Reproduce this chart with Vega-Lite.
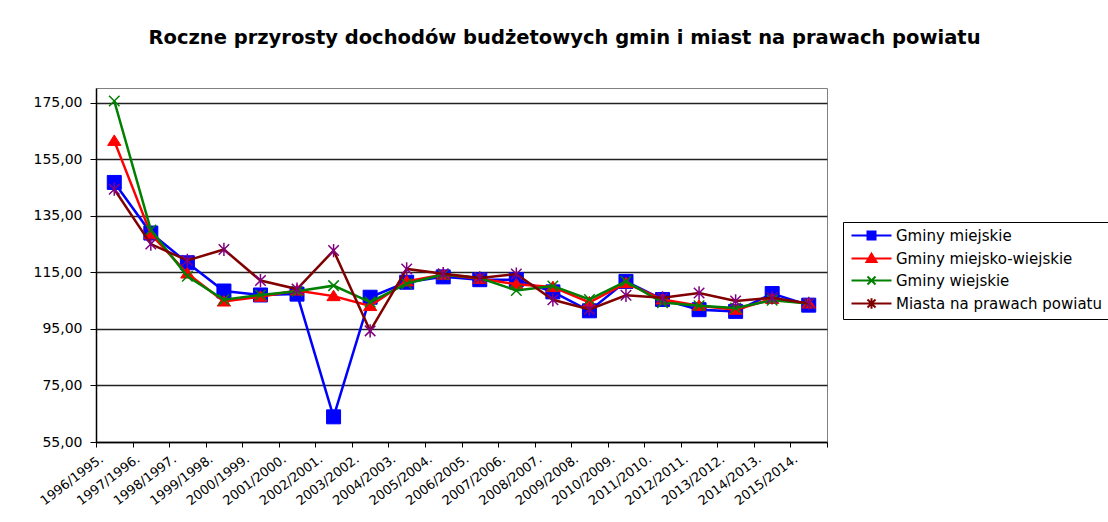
{
  "$schema": "https://vega.github.io/schema/vega-lite/v6.json",
  "autosize": "none",
  "width": 731,
  "height": 354,
  "padding": {"left": 96, "top": 88, "right": 281, "bottom": 80},
  "background": "white",
  "title": {
    "text": "Roczne przyrosty dochodów budżetowych gmin i miast na prawach powiatu",
    "font": "DejaVu Sans",
    "fontSize": 19.5,
    "fontWeight": "bold",
    "color": "#000000",
    "anchor": "middle",
    "frame": "group",
    "dx": 103,
    "baseline": "alphabetic",
    "offset": 25
  },
  "data": {
    "values": [
      {"okres": "1996/1995.", "Gminy miejskie": 146.8, "Gminy miejsko-wiejskie": 161.5, "Gminy wiejskie": 175.6, "Miasta na prawach powiatu": 144.4},
      {"okres": "1997/1996.", "Gminy miejskie": 128.9, "Gminy miejsko-wiejskie": 128.5, "Gminy wiejskie": 130.0, "Miasta na prawach powiatu": 125.0},
      {"okres": "1998/1997.", "Gminy miejskie": 118.4, "Gminy miejsko-wiejskie": 114.6, "Gminy wiejskie": 113.6, "Miasta na prawach powiatu": 119.2},
      {"okres": "1999/1998.", "Gminy miejskie": 108.4, "Gminy miejsko-wiejskie": 104.7, "Gminy wiejskie": 105.3, "Miasta na prawach powiatu": 123.1},
      {"okres": "2000/1999.", "Gminy miejskie": 107.0, "Gminy miejsko-wiejskie": 106.4, "Gminy wiejskie": 107.0, "Miasta na prawach powiatu": 112.1},
      {"okres": "2001/2000.", "Gminy miejskie": 107.3, "Gminy miejsko-wiejskie": 108.6, "Gminy wiejskie": 108.3, "Miasta na prawach powiatu": 109.1},
      {"okres": "2002/2001.", "Gminy miejskie": 63.9, "Gminy miejsko-wiejskie": 106.6, "Gminy wiejskie": 110.3, "Miasta na prawach powiatu": 122.7},
      {"okres": "2003/2002.", "Gminy miejskie": 106.2, "Gminy miejsko-wiejskie": 103.1, "Gminy wiejskie": 104.5, "Miasta na prawach powiatu": 94.3},
      {"okres": "2004/2003.", "Gminy miejskie": 111.5, "Gminy miejsko-wiejskie": 111.8, "Gminy wiejskie": 111.0, "Miasta na prawach powiatu": 116.2},
      {"okres": "2005/2004.", "Gminy miejskie": 113.4, "Gminy miejsko-wiejskie": 114.2, "Gminy wiejskie": 114.2, "Miasta na prawach powiatu": 114.5},
      {"okres": "2006/2005.", "Gminy miejskie": 112.4, "Gminy miejsko-wiejskie": 112.7, "Gminy wiejskie": 113.0, "Miasta na prawach powiatu": 113.0},
      {"okres": "2007/2006.", "Gminy miejskie": 112.4, "Gminy miejsko-wiejskie": 110.8, "Gminy wiejskie": 108.6, "Miasta na prawach powiatu": 114.4},
      {"okres": "2008/2007.", "Gminy miejskie": 108.1, "Gminy miejsko-wiejskie": 109.8, "Gminy wiejskie": 110.2, "Miasta na prawach powiatu": 105.3},
      {"okres": "2009/2008.", "Gminy miejskie": 101.4, "Gminy miejsko-wiejskie": 104.4, "Gminy wiejskie": 105.4, "Miasta na prawach powiatu": 101.9},
      {"okres": "2010/2009.", "Gminy miejskie": 111.8, "Gminy miejsko-wiejskie": 111.2, "Gminy wiejskie": 111.8, "Miasta na prawach powiatu": 106.9},
      {"okres": "2011/2010.", "Gminy miejskie": 105.4, "Gminy miejsko-wiejskie": 105.4, "Gminy wiejskie": 104.3, "Miasta na prawach powiatu": 106.0},
      {"okres": "2012/2011.", "Gminy miejskie": 101.8, "Gminy miejsko-wiejskie": 103.2, "Gminy wiejskie": 103.2, "Miasta na prawach powiatu": 107.7},
      {"okres": "2013/2012.", "Gminy miejskie": 101.2, "Gminy miejsko-wiejskie": 101.8, "Gminy wiejskie": 102.4, "Miasta na prawach powiatu": 104.9},
      {"okres": "2014/2013.", "Gminy miejskie": 107.5, "Gminy miejsko-wiejskie": 105.6, "Gminy wiejskie": 105.1, "Miasta na prawach powiatu": 106.0},
      {"okres": "2015/2014.", "Gminy miejskie": 103.4, "Gminy miejsko-wiejskie": 104.0, "Gminy wiejskie": 104.0, "Miasta na prawach powiatu": 104.0}
    ]
  },
  "transform": [
    {"fold": ["Gminy miejskie", "Gminy miejsko-wiejskie", "Gminy wiejskie", "Miasta na prawach powiatu"], "as": ["seria", "wartosc"]}
  ],
  "encoding": {
    "x": {
      "field": "okres",
      "type": "ordinal",
      "sort": null,
      "scale": {"type": "band", "paddingInner": 0, "paddingOuter": 0},
      "axis": {
        "title": null,
        "tickBand": "extent",
        "grid": false,
        "domainColor": "#000000",
        "domainWidth": 1.5,
        "tickColor": "#000000",
        "tickSize": 5,
        "labelAngle": -37,
        "labelAlign": "right",
        "labelBaseline": "middle",
        "labelOffset": -13,
        "labelPadding": 10,
        "labelFont": "DejaVu Sans",
        "labelFontSize": 13,
        "labelColor": "#000000"
      }
    },
    "y": {
      "field": "wartosc",
      "type": "quantitative",
      "scale": {"domain": [55, 180.2], "nice": false, "zero": false},
      "axis": {
        "title": null,
        "values": [55, 75, 95, 115, 135, 155, 175],
        "labelExpr": "replace(format(datum.value, '.2f'), '.', ',')",
        "grid": true,
        "gridColor": "#222222",
        "gridWidth": 1.3,
        "domainColor": "#000000",
        "domainWidth": 1.5,
        "tickColor": "#000000",
        "tickSize": 6,
        "labelPadding": 8,
        "labelFont": "DejaVu Sans",
        "labelFontSize": 14,
        "labelColor": "#000000"
      }
    }
  },
  "layer": [
    {
      "transform": [{"filter": "datum.seria == 'Gminy miejskie'"}],
      "mark": {"type": "line", "color": "#0000FF", "strokeWidth": 2.5}
    },
    {
      "transform": [{"filter": "datum.seria == 'Gminy miejskie'"}],
      "mark": {"type": "point", "shape": "M-1,-1H1V1H-1Z", "size": 196, "filled": true, "fill": "#0000FF", "stroke": "#0000FF", "strokeWidth": 1, "opacity": 1}
    },
    {
      "transform": [{"filter": "datum.seria == 'Gminy miejsko-wiejskie'"}],
      "mark": {"type": "line", "color": "#FF0000", "strokeWidth": 2.5}
    },
    {
      "transform": [{"filter": "datum.seria == 'Gminy miejsko-wiejskie'"}],
      "mark": {"type": "point", "shape": "M0,-0.85L0.95,0.65H-0.95Z", "size": 196, "filled": true, "fill": "#FF0000", "stroke": "#FF0000", "strokeWidth": 1, "opacity": 1}
    },
    {
      "transform": [{"filter": "datum.seria == 'Gminy wiejskie'"}],
      "mark": {"type": "line", "color": "#008000", "strokeWidth": 2.5}
    },
    {
      "transform": [{"filter": "datum.seria == 'Gminy wiejskie'"}],
      "mark": {"type": "point", "shape": "M-0.75,-0.75L0.75,0.75M-0.75,0.75L0.75,-0.75", "size": 196, "filled": false, "stroke": "#008000", "strokeWidth": 1.5, "opacity": 1}
    },
    {
      "transform": [{"filter": "datum.seria == 'Miasta na prawach powiatu'"}],
      "mark": {"type": "line", "color": "#800000", "strokeWidth": 2.5}
    },
    {
      "transform": [{"filter": "datum.seria == 'Miasta na prawach powiatu'"}],
      "mark": {"type": "point", "shape": "M-0.75,-0.75L0.75,0.75M-0.75,0.75L0.75,-0.75M0,-0.95V0.95", "size": 196, "filled": false, "stroke": "#800080", "strokeWidth": 1.5, "opacity": 1}
    },
    {
      "mark": {"type": "point", "filled": true, "size": 64, "strokeWidth": 2, "opacity": 0},
      "encoding": {
        "color": {
          "field": "seria",
          "type": "nominal",
          "scale": {
            "domain": ["Gminy miejskie", "Gminy miejsko-wiejskie", "Gminy wiejskie", "Miasta na prawach powiatu"],
            "range": ["#0000FF", "#FF0000", "#008000", "#800080"]
          },
          "legend": {"title": null}
        },
        "stroke": {
          "field": "seria",
          "type": "nominal",
          "scale": {
            "domain": ["Gminy miejskie", "Gminy miejsko-wiejskie", "Gminy wiejskie", "Miasta na prawach powiatu"],
            "range": ["#0000FF", "#FF0000", "#008000", "#800000"]
          },
          "legend": {"title": null}
        },
        "shape": {
          "field": "seria",
          "type": "nominal",
          "scale": {
            "domain": ["Gminy miejskie", "Gminy miejsko-wiejskie", "Gminy wiejskie", "Miasta na prawach powiatu"],
            "range": [
              "M-1.25,0H8.75M2.75,-1H4.75V1H2.75Z",
              "M-1.25,0H8.75M3.75,-1.2L5,0.9H2.5Z",
              "M-1.25,0H8.75M2.75,-1L4.75,1M2.75,1L4.75,-1",
              "M-1.25,0H8.75M2.75,-1L4.75,1M2.75,1L4.75,-1M3.75,-1.3V1.3"
            ]
          },
          "legend": {"title": null}
        }
      }
    }
  ],
  "config": {
    "font": "DejaVu Sans",
    "view": {"stroke": "#808080", "strokeWidth": 1},
    "legend": {
      "orient": "none",
      "legendX": 747,
      "legendY": 134,
      "strokeColor": "#000000",
      "fillColor": "#FFFFFF",
      "padding": 6,
      "labelFont": "DejaVu Sans",
      "labelFontSize": 15,
      "labelColor": "#000000",
      "labelLimit": 400,
      "labelOffset": 32,
      "symbolSize": 64,
      "symbolStrokeWidth": 2,
      "symbolOpacity": 1,
      "rowPadding": 5
    }
  }
}
